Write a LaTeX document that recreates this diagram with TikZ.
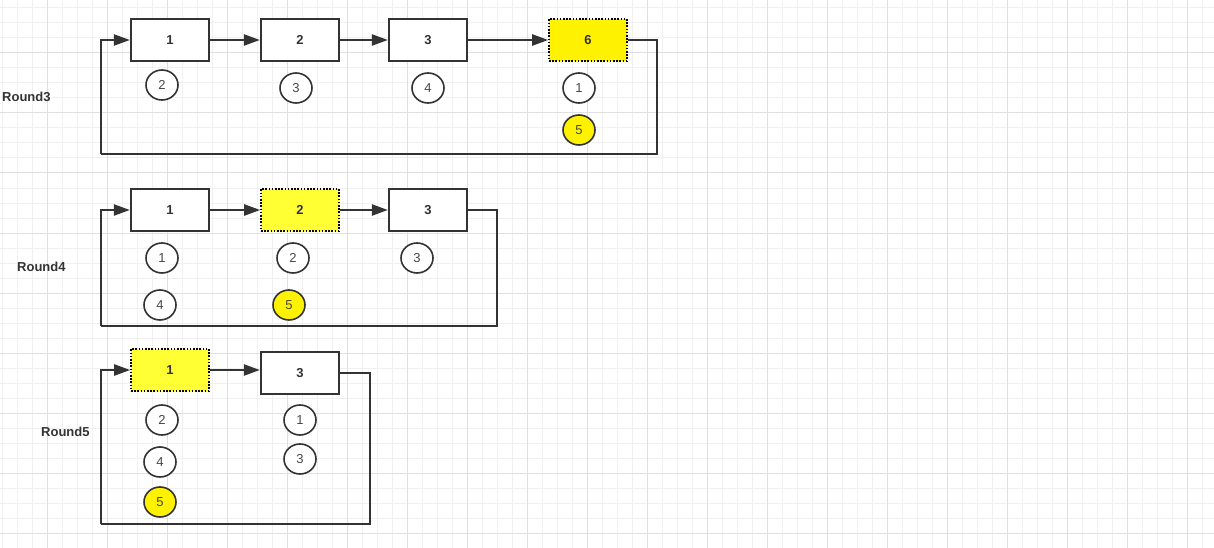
\documentclass[tikz,border=0pt]{standalone}
\usepackage{fontspec}
\setmainfont{Liberation Sans}
\usepackage{tikz}
\usetikzlibrary{
  shapes.geometric,
  arrows.meta,
  positioning
}
\definecolor{linegray}{RGB}{51, 51, 51}
\definecolor{gridminor}{RGB}{240, 240, 240}
\definecolor{gridmajor}{RGB}{224, 224, 224}
\definecolor{hiyellow}{RGB}{255, 255, 51}

\begin{document}
\begin{tikzpicture}[
  x=1pt, y=-1pt,
  slot/.style={rectangle, draw=linegray, line width=2.2pt, minimum width=78pt, minimum height=42pt, inner sep=0pt, fill=white, font=\fontsize{13}{15}\selectfont\bfseries, text=linegray},
  picked/.style={slot, fill=#1, draw=black, line width=1.6pt, dash pattern=on 1.6pt off 1.6pt},
  picked/.default=hiyellow,
  ball/.style={ellipse, draw=linegray, line width=1.6pt, minimum width=32pt, minimum height=30pt, inner sep=0pt, fill=white, font=\fontsize{13}{15}\selectfont, text=linegray!90},
  hiball/.style={ball, fill=yellow},
  round/.style={anchor=west, inner sep=0pt, font=\fontsize{13}{15}\selectfont\bfseries, text=linegray},
  arrow/.style={-{Triangle[length=16pt, width=11pt]}, color=linegray, line width=2.2pt},
  loop/.style={color=linegray, line width=2.2pt}
]
\useasboundingbox (0,0) rectangle (1214,548);

% Background grid
\fill[white] (0,0) rectangle (1214,548);
\foreach \x in {2,17,...,1214} \draw[gridminor, line width=1pt] (\x,0) -- (\x,548);
\foreach \y in {8,23,...,548} \draw[gridminor, line width=1pt] (0,\y) -- (1214,\y);
\foreach \x in {47,107,...,1214} \draw[gridmajor, line width=1pt] (\x,0) -- (\x,548);
\foreach \y in {53,113,...,548} \draw[gridmajor, line width=1pt] (0,\y) -- (1214,\y);

% Round 3
\node[round] (lab3) at (2,97) {Round3};
\node[slot] (r3b1) at (170,40) {1};
\node[slot] (r3b2) at (300,40) {2};
\node[slot] (r3b3) at (428,40) {3};
\node[picked=yellow] (r3b6) at (588,40) {6};
\node[ball] (r3c2) at (162,85) {2};
\node[ball] (r3c3) at (296,88) {3};
\node[ball] (r3c4) at (428,88) {4};
\node[ball] (r3c1) at (579,88) {1};
\node[hiball] (r3c5) at (579,130) {5};
\coordinate (r3br) at (657,154);
\coordinate (r3bl) at (101,154);
\draw[arrow] (r3b1) -- (r3b2);
\draw[arrow] (r3b2) -- (r3b3);
\draw[arrow] (r3b3) -- (r3b6);
\draw[loop] (r3b6.east) -| (r3br) -- (r3bl);
\draw[arrow] (r3bl) |- (r3b1.west);

% Round 4
\node[round] (lab4) at (17,267) {Round4};
\node[slot] (r4b1) at (170,210) {1};
\node[picked] (r4b2) at (300,210) {2};
\node[slot] (r4b3) at (428,210) {3};
\node[ball] (r4c1) at (162,258) {1};
\node[ball] (r4c4) at (160,305) {4};
\node[ball] (r4c2) at (293,258) {2};
\node[hiball] (r4c5) at (289,305) {5};
\node[ball] (r4c3) at (417,258) {3};
\coordinate (r4br) at (497,326);
\coordinate (r4bl) at (101,326);
\draw[arrow] (r4b1) -- (r4b2);
\draw[arrow] (r4b2) -- (r4b3);
\draw[loop] (r4b3.east) -| (r4br) -- (r4bl);
\draw[arrow] (r4bl) |- (r4b1.west);

% Round 5
\node[round] (lab5) at (41,432) {Round5};
\node[picked] (r5b1) at (170,370) {1};
\node[slot] (r5b3) at (300,373) {3};
\node[ball] (r5c2) at (162,420) {2};
\node[ball] (r5c4) at (160,462) {4};
\node[hiball] (r5c5) at (160,502) {5};
\node[ball] (r5c1) at (300,420) {1};
\node[ball] (r5c3) at (300,459) {3};
\coordinate (r5br) at (370,524);
\coordinate (r5bl) at (101,524);
\draw[arrow] (r5b1.east) -- (r5b3.west |- r5b1.east);
\draw[loop] (r5b3.east) -| (r5br) -- (r5bl);
\draw[arrow] (r5bl) |- (r5b1.west);

\end{tikzpicture}
\end{document}
